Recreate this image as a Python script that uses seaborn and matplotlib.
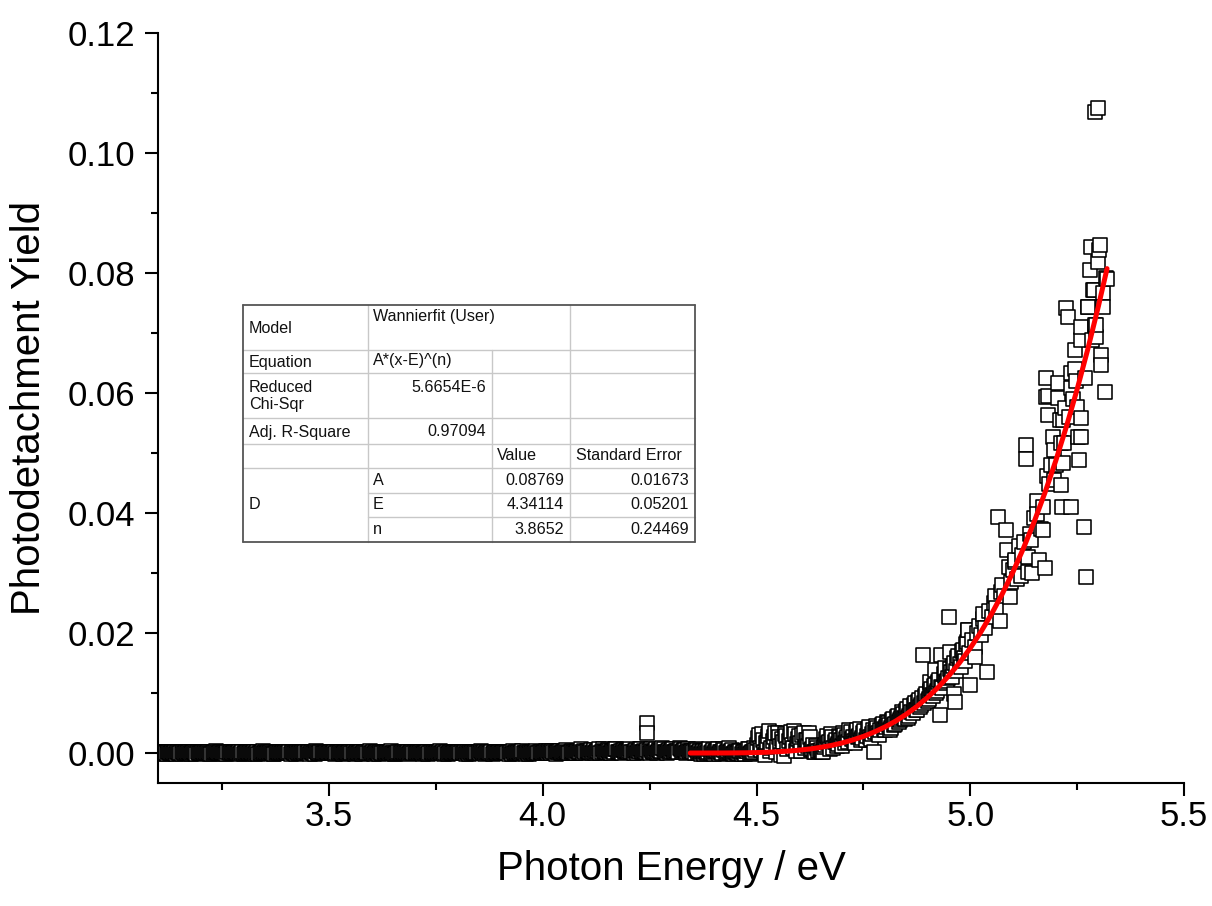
import matplotlib
matplotlib.use("Agg")
import matplotlib.pyplot as plt
from matplotlib.lines import Line2D
from matplotlib.ticker import MultipleLocator, FormatStrFormatter
import numpy as np
import pandas as pd
import seaborn as sns

# ---------------- data ----------------
# energies in meV, yields in units of 1e-4
energy_low_meV = [
    3100, 3105, 3110, 3115, 3120, 3125, 3130, 3135, 3140, 3145, 3150, 3155, 3160, 3165, 3170, 3175, 3180, 3185, 3190, 3195,
    3200, 3205, 3210, 3215, 3220, 3225, 3230, 3235, 3240, 3245, 3250, 3255, 3260, 3265, 3270, 3275, 3280, 3285, 3290, 3295,
    3300, 3305, 3310, 3315, 3320, 3325, 3330, 3335, 3340, 3345, 3350, 3355, 3360, 3365, 3370, 3375, 3380, 3385, 3390, 3395,
    3400, 3405, 3410, 3415, 3420, 3425, 3430, 3435, 3440, 3445, 3450, 3455, 3460, 3465, 3470, 3475, 3480, 3485, 3490, 3495,
    3500, 3505, 3510, 3515, 3520, 3525, 3530, 3535, 3540, 3545, 3550, 3555, 3560, 3565, 3570, 3575, 3580, 3585, 3590, 3595,
    3600, 3605, 3610, 3615, 3620, 3625, 3630, 3635, 3640, 3645, 3650, 3655, 3660, 3665, 3670, 3675, 3680, 3685, 3690, 3695,
    3700, 3705, 3710, 3715, 3720, 3725, 3730, 3735, 3740, 3745, 3750, 3755, 3760, 3765, 3770, 3775, 3780, 3785, 3790, 3795,
    3800, 3805, 3810, 3815, 3820, 3825, 3830, 3835, 3840, 3845, 3850, 3855, 3860, 3865, 3870, 3875, 3880, 3885, 3890, 3895,
    3900, 3905, 3910, 3915, 3920, 3925, 3930, 3935, 3940, 3945, 3950, 3955, 3960, 3965, 3970, 3975, 3980, 3985, 3990, 3995,
    4000, 4005, 4010, 4015, 4020, 4025, 4030, 4035, 4040, 4045, 4050, 4055, 4060, 4065, 4070, 4075, 4080, 4085, 4090, 4095,
    4100, 4105, 4110, 4115, 4120, 4125, 4130, 4135, 4140, 4145, 4150, 4155, 4160, 4165, 4170, 4175, 4180, 4185, 4190, 4195,
    4200, 4205, 4210, 4215, 4220, 4225, 4230, 4235, 4240, 4245, 4250, 4255, 4260, 4265, 4270, 4275, 4280, 4285, 4290, 4295,
    4300, 4305, 4310, 4315, 4320, 4325, 4330, 4335, 4340, 4345,
]
yield_low_e4 = [
    1, 0, 2, 0, -1, 1, 0, 0, 2, 1, 0, -1, 0, 1, 2, 0, 0, 1, -1, 0,
    0, 2, 1, 0, 0, -1, 1, 3, 0, 1, 0, 0, -1, 2, 1, 0, 1, 0, 2, 0,
    -1, 0, 1, 1, 0, 2, 0, -1, 0, 3, 1, 0, 0, 1, -1, 0, 2, 1, 0, 0,
    1, 0, -1, 2, 0, 1, 0, 0, 1, 2, 0, -1, 1, 0, 3, 0, 1, 0, 0, 2,
    0, 1, 0, -1, 2, 1, 0, 0, 1, 0, 2, 0, -1, 1, 0, 2, 0, 1, 0, 3,
    0, -1, 1, 0, 2, 0, 1, 1, 0, 3, 0, -1, 0, 1, 2, 0, 0, 1, 0, 2,
    1, 0, 0, 2, -1, 0, 1, 0, 2, 1, 0, 0, 3, 0, -1, 1, 0, 2, 0, 1,
    0, 2, 1, 0, -1, 0, 1, 2, 0, 0, 1, 4, 0, -1, 2, 0, 1, 0, 1, 0,
    2, 0, 1, 0, -1, 1, 3, 0, 0, 2, 1, 0, -1, 0, 2, 1, 0, 3, 0, 1,
    0, 2, 1, 4, 0, 1, -1, 2, 3, 0, 1, 5, 0, 2, 1, 0, 3, 1, 6, 0,
    2, 4, 1, 0, 5, 2, 3, 0, 7, 1, 2, 4, 0, 3, 6, 1, 2, 0, 5, 3,
    1, 6, 2, 4, 0, 3, 7, 2, 1, 5, 0, 3, 2, 6, 1, 4, 8, 2, 0, 5,
    3, 7, 1, 4, 9, 2, 5, 0, 6, 2,
]

# interleaved scan points of the flat region
energy_low_b_meV = [
    3102.5, 3107.5, 3112.5, 3117.5, 3122.5, 3127.5, 3132.5, 3137.5, 3142.5, 3147.5, 3152.5, 3157.5, 3162.5, 3167.5, 3172.5, 3177.5, 3182.5, 3187.5, 3192.5, 3197.5,
    3202.5, 3207.5, 3212.5, 3217.5, 3222.5, 3227.5, 3232.5, 3237.5, 3242.5, 3247.5, 3252.5, 3257.5, 3262.5, 3267.5, 3272.5, 3277.5, 3282.5, 3287.5, 3292.5, 3297.5,
    3302.5, 3307.5, 3312.5, 3317.5, 3322.5, 3327.5, 3332.5, 3337.5, 3342.5, 3347.5, 3352.5, 3357.5, 3362.5, 3367.5, 3372.5, 3377.5, 3382.5, 3387.5, 3392.5, 3397.5,
    3402.5, 3407.5, 3412.5, 3417.5, 3422.5, 3427.5, 3432.5, 3437.5, 3442.5, 3447.5, 3452.5, 3457.5, 3462.5, 3467.5, 3472.5, 3477.5, 3482.5, 3487.5, 3492.5, 3497.5,
    3502.5, 3507.5, 3512.5, 3517.5, 3522.5, 3527.5, 3532.5, 3537.5, 3542.5, 3547.5, 3552.5, 3557.5, 3562.5, 3567.5, 3572.5, 3577.5, 3582.5, 3587.5, 3592.5, 3597.5,
    3602.5, 3607.5, 3612.5, 3617.5, 3622.5, 3627.5, 3632.5, 3637.5, 3642.5, 3647.5, 3652.5, 3657.5, 3662.5, 3667.5, 3672.5, 3677.5, 3682.5, 3687.5, 3692.5, 3697.5,
    3702.5, 3707.5, 3712.5, 3717.5, 3722.5, 3727.5, 3732.5, 3737.5, 3742.5, 3747.5, 3752.5, 3757.5, 3762.5, 3767.5, 3772.5, 3777.5, 3782.5, 3787.5, 3792.5, 3797.5,
    3802.5, 3807.5, 3812.5, 3817.5, 3822.5, 3827.5, 3832.5, 3837.5, 3842.5, 3847.5, 3852.5, 3857.5, 3862.5, 3867.5, 3872.5, 3877.5, 3882.5, 3887.5, 3892.5, 3897.5,
    3902.5, 3907.5, 3912.5, 3917.5, 3922.5, 3927.5, 3932.5, 3937.5, 3942.5, 3947.5, 3952.5, 3957.5, 3962.5, 3967.5, 3972.5, 3977.5, 3982.5, 3987.5, 3992.5, 3997.5,
    4002.5, 4007.5, 4012.5, 4017.5, 4022.5, 4027.5, 4032.5, 4037.5, 4042.5, 4047.5, 4052.5, 4057.5, 4062.5, 4067.5, 4072.5, 4077.5, 4082.5, 4087.5, 4092.5, 4097.5,
    4102.5, 4107.5, 4112.5, 4117.5, 4122.5, 4127.5, 4132.5, 4137.5, 4142.5, 4147.5, 4152.5, 4157.5, 4162.5, 4167.5, 4172.5, 4177.5, 4182.5, 4187.5, 4192.5, 4197.5,
    4202.5, 4207.5, 4212.5, 4217.5, 4222.5, 4227.5, 4232.5, 4237.5, 4242.5, 4247.5, 4252.5, 4257.5, 4262.5, 4267.5, 4272.5, 4277.5, 4282.5, 4287.5, 4292.5, 4297.5,
    4302.5, 4307.5, 4312.5, 4317.5, 4322.5, 4327.5, 4332.5, 4337.5, 4342.5, 4347.5,
]
yield_low_b_e4 = [
    0, 1, -1, 0, 2, 0, 1, 0, -1, 1, 0, 2, 0, 0, 1, -1, 1, 0, 2, 0,
    1, 0, 0, 2, -1, 0, 1, 1, 0, 2, 0, -1, 1, 0, 0, 2, 1, 0, -1, 1,
    0, 2, 0, 1, 0, -1, 1, 0, 2, 0, 0, 1, 2, 0, -1, 1, 0, 0, 2, 1,
    0, 1, 2, 0, -1, 0, 2, 1, 0, 0, 1, 2, 0, -1, 1, 0, 2, 0, 1, 0,
    2, 0, 1, 0, 0, 2, -1, 1, 0, 1, 0, 2, 0, 0, 1, -1, 1, 2, 0, 0,
    1, 0, 2, -1, 0, 1, 0, 2, 1, 0, -1, 0, 2, 0, 1, 1, 0, -1, 2, 0,
    0, 1, 2, 0, 0, 1, -1, 2, 0, 0, 1, 2, 0, 1, 0, -1, 2, 0, 1, 0,
    1, 0, 0, 2, 1, -1, 0, 1, 2, 0, 0, 1, 2, 0, 1, 0, -1, 2, 0, 1,
    0, 2, 1, 0, 1, -1, 0, 2, 1, 0, 3, 0, 1, -1, 0, 2, 1, 0, 2, 0,
    1, 3, 0, 2, 4, 0, 1, 3, 0, 2, 4, 1, 0, 3, 2, 0, 4, 2, 1, 3,
    3, 1, 5, 2, 0, 4, 6, 1, 3, 2, 5, 0, 4, 2, 7, 1, 3, 5, 2, 4,
    4, 2, 0, 5, 3, 6, 1, 4, 2, 3, 6, 1, 4, 0, 5, 3, 7, 1, 4, 2,
    6, 2, 4, 1, 7, 3, 5, 1, 4, 3,
]

energy_high_meV = [
    4350, 4355, 4360, 4365, 4370, 4375, 4380, 4385, 4390, 4395, 4400, 4405, 4410, 4415, 4420,
    4425, 4430, 4435, 4440, 4445, 4450, 4455, 4460, 4465, 4470, 4475, 4480, 4485, 4490, 4495,
    4500, 4505, 4510, 4515, 4520, 4525, 4530, 4535, 4540, 4545, 4550, 4555, 4560, 4565, 4570,
    4575, 4580, 4585, 4590, 4595, 4600, 4605, 4610, 4615, 4620, 4625, 4630, 4635, 4640, 4645,
    4650, 4655, 4660, 4665, 4670, 4675, 4680, 4685, 4690, 4695, 4700, 4705, 4710, 4715, 4720,
    4725, 4730, 4735, 4740, 4745, 4750, 4755, 4760, 4765, 4770, 4775, 4780, 4785, 4790, 4795,
    4800, 4805, 4810, 4815, 4820, 4825, 4830, 4835, 4840, 4845, 4850, 4855, 4860, 4865, 4870,
    4875, 4880, 4885, 4890, 4895, 4900, 4905, 4910, 4915, 4920, 4925, 4930, 4935, 4940, 4945,
    4950, 4955, 4960, 4965, 4970, 4975, 4980, 4985, 4990, 4995, 5000, 5005, 5010, 5015, 5020,
    5025, 5030, 5035, 5040, 5045, 5050, 5055, 5060, 5065, 5070, 5075, 5080, 5085, 5090, 5095,
    5100, 5105, 5110, 5115, 5120, 5125, 5130, 5135, 5140, 5145, 5150, 5155, 5160, 5165, 5170,
    5175, 5180, 5185, 5190, 5195, 5200, 5205, 5210, 5215, 5220, 5225, 5230, 5235, 5240, 5245,
    5250, 5255, 5260, 5265, 5270, 5275, 5280, 5285, 5290, 5295, 5300, 5305, 5310, 5315, 5320,
]
yield_high_e4 = [
    3, 0, 5, 1, -2, 4, 2, 0, 6, 1, -1, 3, 7, 2, 0,
    5, 1, 8, 3, -1, 2, 0, 4, -2, 1, 3, 6, -1, 2, 9,
    14, 30, 5, 22, -4, 18, 36, 8, 27, 2, 33, 12, 24, -5, 29,
    20, 35, 9, 31, 15, 28, 4, 34, 22, 12, 26, 7, 2, 11, 3,
    5, 1, 14, 28, 19, 31, 8, 22, 15, 27, 12, 30, 24, 19, 35,
    26, 16, 38, 29, 22, 34, 21, 40, 27, 31, 2, 45, 33, 39, 48,
    38, 52, 46, 41, 57, 49, 62, 55, 68, 58, 70, 59, 78, 66, 84,
    72, 88, 80, 163, 95, 86, 104, 97, 112, 100, 118, 63, 108, 128, 120,
    227, 135, 145, 85, 158, 148, 170, 159, 182, 205, 113, 188, 176, 200, 212,
    196, 224, 208, 135, 236, 226, 250, 241, 393, 220, 280, 262, 338, 310, 285,
    305, 322, 290, 345, 330, 352, 513, 327, 365, 300, 392, 420, 322, 374, 410,
    308, 462, 448, 480, 455, 480, 617, 555, 410, 517, 742, 560, 633, 590, 672,
    577, 488, 527, 377, 293, 743, 805, 688, 772, 713, 838, 663, 767, 602, 790,
]

# interleaved scan points of the onset region
energy_high_b_meV = [
    4352.5, 4357.5, 4362.5, 4367.5, 4372.5, 4377.5, 4382.5, 4387.5, 4392.5, 4397.5, 4402.5, 4407.5, 4412.5, 4417.5, 4422.5,
    4427.5, 4432.5, 4437.5, 4442.5, 4447.5, 4452.5, 4457.5, 4462.5, 4467.5, 4472.5, 4477.5, 4482.5, 4487.5, 4492.5, 4497.5,
    4502.5, 4507.5, 4512.5, 4517.5, 4522.5, 4527.5, 4532.5, 4537.5, 4542.5, 4547.5, 4552.5, 4557.5, 4562.5, 4567.5, 4572.5,
    4577.5, 4582.5, 4587.5, 4592.5, 4597.5, 4602.5, 4607.5, 4612.5, 4617.5, 4622.5, 4627.5, 4632.5, 4637.5, 4642.5, 4647.5,
    4652.5, 4657.5, 4662.5, 4667.5, 4672.5, 4677.5, 4682.5, 4687.5, 4692.5, 4697.5, 4702.5, 4707.5, 4712.5, 4717.5, 4722.5,
    4727.5, 4732.5, 4737.5, 4742.5, 4747.5, 4752.5, 4757.5, 4762.5, 4767.5, 4772.5, 4777.5, 4782.5, 4787.5, 4792.5, 4797.5,
    4802.5, 4807.5, 4812.5, 4817.5, 4822.5, 4827.5, 4832.5, 4837.5, 4842.5, 4847.5, 4852.5, 4857.5, 4862.5, 4867.5, 4872.5,
    4877.5, 4882.5, 4887.5, 4892.5, 4897.5, 4902.5, 4907.5, 4912.5, 4917.5, 4922.5, 4927.5, 4932.5, 4937.5, 4942.5, 4947.5,
    4952.5, 4957.5, 4962.5, 4967.5, 4972.5, 4977.5, 4982.5, 4987.5, 4992.5, 4997.5,
]
yield_high_b_e4 = [
    2, 6, 0, 3, 1, -1, 4, 2, 0, 5, 1, 3, -1, 2, 6,
    0, 3, 1, 5, -2, 2, 0, 4, 1, -1, 3, 7, 0, 2, 5,
    25, 9, 32, 1, 16, 28, 4, 20, 34, 10, 26, -3, 18, 31, 6,
    27, 13, 37, 3, 24, 17, 30, 8, 21, 33, 5, 14, 1, 9, 4,
    2, 10, 24, 17, 6, 26, 18, 11, 29, 21, 33, 16, 27, 38, 23,
    20, 33, 27, 40, 25, 36, 29, 44, 24, 38, 35, 42, 30, 47, 40,
    44, 50, 39, 55, 47, 60, 52, 58, 65, 56, 73, 62, 69, 80, 71,
    85, 76, 92, 83, 99, 90, 107, 95, 114, 103, 122, 110, 131, 117, 125,
    140, 126, 150, 137, 162, 144, 172, 154, 185, 166,
]

energy_extra_meV = [
    4245, 4245, 4905, 4918, 4932, 4940, 4953, 4962, 4995, 5012, 5030, 5058, 5072, 5084,
    5093, 5104, 5118, 5131, 5136, 5142, 5156, 5171, 5178, 5178, 5182, 5182, 5194, 5197,
    5206, 5213, 5213, 5217, 5217, 5222, 5229, 5236, 5236, 5245, 5248, 5252, 5259, 5259,
    5259, 5269, 5276, 5283, 5287, 5292, 5292, 5294, 5299, 5299, 5304, 5306, 5311, 5318,
]
yield_extra_e4 = [
    50, 33, 118, 138, 163, 142, 168, 98, 205, 160, 232, 262, 268, 372,
    260, 318, 295, 490, 302, 355, 398, 372, 625, 593, 563, 595, 527, 505,
    592, 517, 447, 555, 483, 575, 727, 608, 410, 640, 620, 527, 688, 558,
    710, 625, 743, 843, 772, 713, 1068, 693, 1075, 818, 847, 647, 743, 792,
]

# Wannier fit curve
fit_energy = [4.345, 4.375, 4.400, 4.425, 4.450, 4.475, 4.500, 4.525, 4.550, 4.575, 4.600,
              4.625, 4.650, 4.675, 4.700, 4.725, 4.750, 4.775, 4.800, 4.825, 4.850, 4.875,
              4.900, 4.925, 4.950, 4.975, 5.000, 5.025, 5.050, 5.075, 5.100, 5.125, 5.150,
              5.175, 5.200, 5.225, 5.250, 5.275, 5.300, 5.320]
fit_yield = [0.0, 0.0, 0.0000015, 0.000006, 0.0000166, 0.000037, 0.0000716, 0.00013, 0.000206,
             0.00032, 0.000473, 0.00067, 0.000935, 0.00126, 0.00167, 0.00217, 0.00276, 0.00348,
             0.00432, 0.0053, 0.00644, 0.00775, 0.00925, 0.01095, 0.01288, 0.01505, 0.01748,
             0.02019, 0.02319, 0.02653, 0.03018, 0.03422, 0.03863, 0.04344, 0.0487, 0.05442,
             0.06061, 0.06731, 0.07454, 0.08073]

x_ticks = [3.5, 4.0, 4.5, 5.0, 5.5]
y_ticks = [0.00, 0.02, 0.04, 0.06, 0.08, 0.10, 0.12]

table_rows = [
    ("Model", "Wannierfit (User)", "", ""),
    ("Equation", "A*(x-E)^(n)", "", ""),
    ("Reduced\nChi-Sqr", "5.6654E-6", "", ""),
    ("Adj. R-Square", "0.97094", "", ""),
]
param_names = ["A", "E", "n"]
param_values = ["0.08769", "4.34114", "3.8652"]
param_errors = ["0.01673", "0.05201", "0.24469"]

# ---------------- build dataframe ----------------
all_e = energy_low_meV + energy_low_b_meV + energy_high_meV + energy_high_b_meV + energy_extra_meV
all_y = yield_low_e4 + yield_low_b_e4 + yield_high_e4 + yield_high_b_e4 + yield_extra_e4
df = pd.DataFrame({
    "energy": [v / 1000 for v in all_e],
    "yield": [v * 1e-4 for v in all_y],
}).sort_values("energy", kind="mergesort").reset_index(drop=True)
fit_df = pd.DataFrame({"energy": fit_energy, "yield": fit_yield})

# ---------------- styling ----------------
sns.set_theme(style="ticks")
plt.rcParams["font.family"] = ["Liberation Sans", "DejaVu Sans"]

W, H = 1212, 906
fig = plt.figure(figsize=(W / 100, H / 100), dpi=100)
ax = fig.add_axes([158 / W, 1 - 783 / H, (1184 - 158) / W, (783 - 33) / H])

sns.scatterplot(data=df, x="energy", y="yield", ax=ax, marker="s", s=115,
                facecolor="white", edgecolor="black", linewidth=1.15, legend=False, zorder=2)
sns.lineplot(data=fit_df, x="energy", y="yield", ax=ax, color="#ff0000", linewidth=3.6,
             sort=False, estimator=None, legend=False, zorder=3)

ax.set_xlim(3.1, 5.5)
ax.set_ylim(-0.005, 0.12)
ax.set_xticks(x_ticks)
ax.set_yticks(y_ticks)
ax.xaxis.set_minor_locator(MultipleLocator(0.25))
ax.yaxis.set_minor_locator(MultipleLocator(0.01))
ax.xaxis.set_major_formatter(FormatStrFormatter("%.1f"))
ax.yaxis.set_major_formatter(FormatStrFormatter("%.2f"))
ax.tick_params(axis="both", which="major", direction="out", length=9.5, width=1.5,
               labelsize=25, color="black", labelcolor="black")
ax.tick_params(axis="x", which="major", pad=3)
ax.tick_params(axis="y", which="major", pad=7)
ax.tick_params(axis="both", which="minor", direction="out", length=5, width=1.5, color="black")
for side in ["top", "right"]:
    ax.spines[side].set_visible(False)
for side in ["left", "bottom"]:
    ax.spines[side].set_linewidth(1.5)
    ax.spines[side].set_color("black")
ax.set_xlabel("Photon Energy / eV", fontsize=29, labelpad=12, color="black")
ax.set_ylabel("Photodetachment Yield", fontsize=29, labelpad=14, color="black")
ax.grid(False)

# ---------------- fit report table (pixel layout of the reference) ----------------
def fx(px):
    return px / W

def fy(py):
    return 1 - py / H

cols = [243, 368, 492, 570, 695]
rows = [305, 350, 373, 418, 444, 468, 493, 517, 542]
light = "#c8c8c8"
dark = "#555555"

fig.add_artist(plt.Rectangle((fx(cols[0]), fy(rows[-1])), fx(cols[-1]) - fx(cols[0]),
                             fy(rows[0]) - fy(rows[-1]), transform=fig.transFigure,
                             facecolor="white", edgecolor="none", zorder=5))

def hline(y, x0, x1, c=light, lw=1.0):
    fig.add_artist(Line2D([fx(x0), fx(x1)], [fy(y), fy(y)], transform=fig.transFigure,
                          color=c, lw=lw, zorder=6))

def vline(x, y0, y1, c=light, lw=1.0):
    fig.add_artist(Line2D([fx(x), fx(x)], [fy(y0), fy(y1)], transform=fig.transFigure,
                          color=c, lw=lw, zorder=6))

for r in rows[1:6]:
    hline(r, cols[0], cols[-1])
for r in rows[6:8]:
    hline(r, cols[1], cols[-1])
vline(cols[1], rows[0], rows[-1])
vline(cols[2], rows[1], rows[-1])
vline(cols[3], rows[0], rows[-1])
# outer border
hline(rows[0], cols[0], cols[-1], dark, 1.3)
hline(rows[-1], cols[0], cols[-1], dark, 1.3)
vline(cols[0], rows[0], rows[-1], dark, 1.3)
vline(cols[-1], rows[0], rows[-1], dark, 1.3)

tfs = 11.6
def ttext(x, y, s, ha="left"):
    fig.text(fx(x), fy(y), s, ha=ha, va="center", fontsize=tfs, color="#111111", zorder=7,
             linespacing=1.1)

ttext(249, 328, table_rows[0][0])
ttext(373, 316, table_rows[0][1])
ttext(249, 362, table_rows[1][0])
ttext(373, 360, table_rows[1][1])
ttext(249, 396, table_rows[2][0])
ttext(486, 388, table_rows[2][1], ha="right")
ttext(249, 432, table_rows[3][0])
ttext(486, 431, table_rows[3][1], ha="right")
ttext(497, 456, "Value")
ttext(576, 456, "Standard Error")
ttext(249, 505, "D")
for i, (nm, val, err) in enumerate(zip(param_names, param_values, param_errors)):
    yc = [480, 505, 530][i]
    ttext(373, yc, nm)
    ttext(564, yc, val, ha="right")
    ttext(689, yc, err, ha="right")

fig.savefig("out.png", dpi=100, facecolor="white")
